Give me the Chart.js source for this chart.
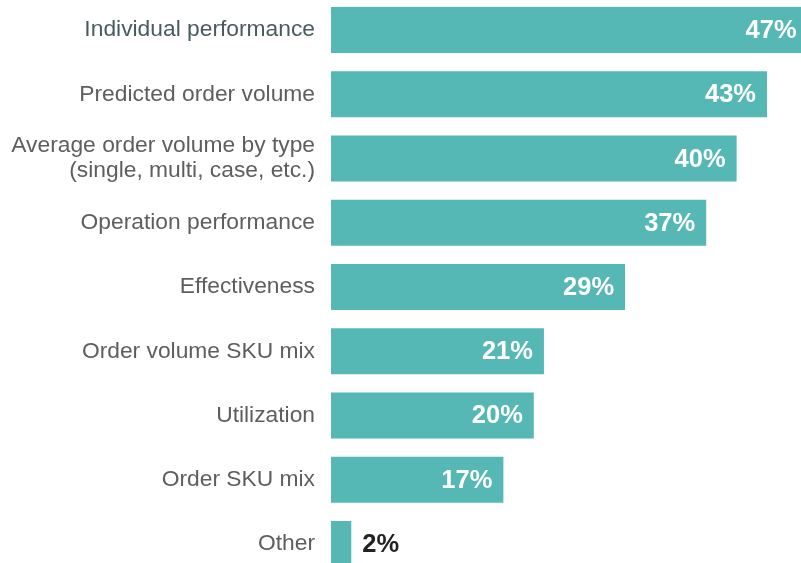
<!DOCTYPE html>
<html>
<head>
<meta charset="utf-8">
<script src="https://cdn.jsdelivr.net/npm/chart.js@4/dist/chart.umd.min.js"></script>
<style>
  html, body { margin: 0; padding: 0; background: #ffffff; overflow: hidden; }
  #wrap { position: relative; width: 801px; height: 578px; margin-top: -2px; }
</style>
</head>
<body>
<div id="wrap"><canvas id="c"></canvas></div>
<script>
const categories = [
  "Individual performance",
  "Predicted order volume",
  ["Average order volume by type", "(single, multi, case, etc.)"],
  "Operation performance",
  "Effectiveness",
  "Order volume SKU mix",
  "Utilization",
  "Order SKU mix",
  "Other"
];
const values = [47, 43, 40, 37, 29, 21, 20, 17, 2];
const valueLabels = ["47%", "43%", "40%", "37%", "29%", "21%", "20%", "17%", "2%"];

const FONT = "'Liberation Sans', Arial, Helvetica, sans-serif";
const BAR = "#56b8b5";

const valueLabelPlugin = {
  id: "valueLabels",
  afterDatasetsDraw(chart) {
    const ctx = chart.ctx;
    const meta = chart.getDatasetMeta(0);
    ctx.save();
    ctx.font = "bold 25.5px " + FONT;
    ctx.textBaseline = "middle";
    meta.data.forEach((bar, i) => {
      const v = values[i];
      if (v >= 5) {
        ctx.fillStyle = "#ffffff";
        ctx.textAlign = "right";
        ctx.fillText(valueLabels[i], bar.x - 11, bar.y + 1);
      } else {
        ctx.fillStyle = "#222222";
        ctx.textAlign = "left";
        ctx.fillText(valueLabels[i], bar.x + 11, bar.y + 1);
      }
    });
    ctx.restore();
  }
};

new Chart(document.getElementById("c"), {
  type: "bar",
  data: {
    labels: categories,
    datasets: [{
      data: values,
      backgroundColor: BAR,
      borderWidth: 0,
      categoryPercentage: 1,
      barPercentage: 0.716
    }]
  },
  options: {
    indexAxis: "y",
    responsive: true,
    maintainAspectRatio: false,
    animation: false,
    layout: { padding: 0 },
    plugins: { legend: { display: false }, tooltip: { enabled: false } },
    scales: {
      x: {
        display: false,
        min: 0,
        max: 46.35
      },
      y: {
        afterFit(scale) {
          scale.width = 331;
          scale.paddingTop = 0;
          scale.paddingBottom = 0;
        },
        grid: { display: false, drawTicks: false },
        border: { display: false },
        ticks: {
          padding: 16,
          autoSkip: false,
          font: { family: FONT, size: 22.8, lineHeight: 1.1 },
          color: (c) => c.index === 0 ? "#4a5b5d" : "#5e5e5e"
        }
      }
    }
  },
  plugins: [valueLabelPlugin]
});
</script>
</body>
</html>
